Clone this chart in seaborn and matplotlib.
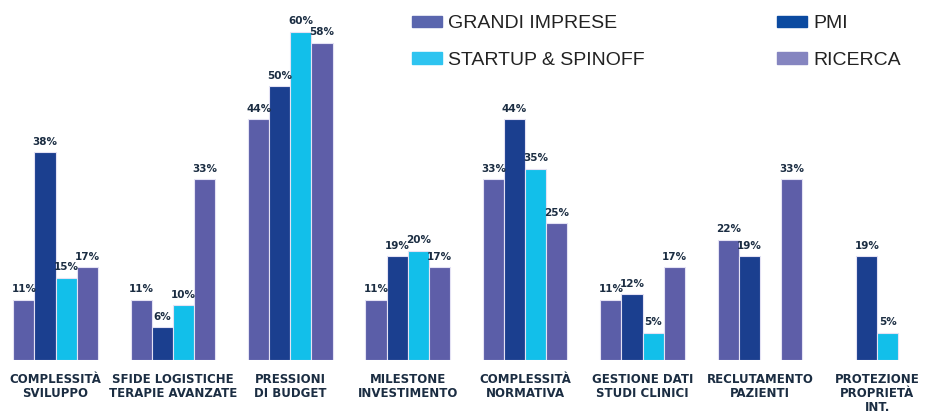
import numpy as np
import pandas as pd
import matplotlib
matplotlib.use('Agg')
import matplotlib.pyplot as plt
import matplotlib.patches as mpatches
import seaborn as sns

categories = [
    'COMPLESSITÀ\nSVILUPPO',
    'SFIDE LOGISTICHE\nTERAPIE AVANZATE',
    'PRESSIONI\nDI BUDGET',
    'MILESTONE\nINVESTIMENTO',
    'COMPLESSITÀ\nNORMATIVA',
    'GESTIONE DATI\nSTUDI CLINICI',
    'RECLUTAMENTO\nPAZIENTI',
    'PROTEZIONE\nPROPRIETÀ\nINT.',
]
series = ['GRANDI IMPRESE', 'PMI', 'STARTUP & SPINOFF', 'RICERCA']
grandi = [11, 11, 44, 11, 33, 11, 22, np.nan]
pmi = [38, 6, 50, 19, 44, 12, 19, 19]
startup = [15, 10, 60, 20, 35, 5, np.nan, 5]
ricerca = [17, 33, 58, 17, 25, 17, 33, np.nan]

bar_colors = ['#5b5ea8', '#1b3f8f', '#12bfea', '#5e5ea8']
legend_colors = ['#5a66ae', '#0b4aa0', '#2ec4f0', '#8585c0']
text_color = '#1b2d42'

rows = []
for vals, s in zip([grandi, pmi, startup, ricerca], series):
    for c, v in zip(categories, vals):
        rows.append({'categoria': c, 'serie': s, 'valore': v})
df = pd.DataFrame(rows)

sns.set_theme(style='white')
plt.rcParams['font.family'] = ['DejaVu Sans']

fig = plt.figure(figsize=(9.25, 4.15), dpi=100)
ax = fig.add_axes([0, 0.1325, 1, 0.857])

sns.barplot(data=df, x='categoria', y='valore', hue='serie', order=categories,
            hue_order=series, palette=bar_colors, width=0.72, ax=ax, saturation=1,
            edgecolor='#e4e2f4', linewidth=0.8, legend=False)

for cont in ax.containers:
    for bar in cont:
        h = bar.get_height()
        if np.isnan(h) or h == 0:
            continue
        ax.text(bar.get_x() + bar.get_width() / 2, h + 1.0, f'{int(h)}%',
                ha='center', va='bottom', fontsize=7.5, fontweight='bold',
                color=text_color)

ax.set_xlim(-0.473, 7.406)
ax.set_ylim(0, 65)
ax.set_xlabel('')
ax.set_ylabel('')
ax.set_yticks([])
ax.tick_params(axis='x', length=0, pad=9)
ax.set_xticks(range(len(categories)))
ax.set_xticklabels(categories, fontsize=8.5, fontweight='bold',
                   color=text_color, linespacing=1.1, va='top')
for s in ax.spines.values():
    s.set_visible(False)
ax.patch.set_alpha(0)

# legend ordinata per righe: GRANDI / PMI, STARTUP / RICERCA
handles = [mpatches.Patch(color=legend_colors[i], label=series[i]) for i in [0, 2, 1, 3]]
fig.legend(handles=handles, ncol=2, loc='upper left', bbox_to_anchor=(0.426, 1.005),
           frameon=False, prop={'family': 'Liberation Sans', 'size': 14},
           handlelength=1.55, handleheight=0.5, handletextpad=0.3,
           columnspacing=6.85, labelspacing=1.0, labelcolor='#222222')

fig.savefig('out.png', dpi=100)
